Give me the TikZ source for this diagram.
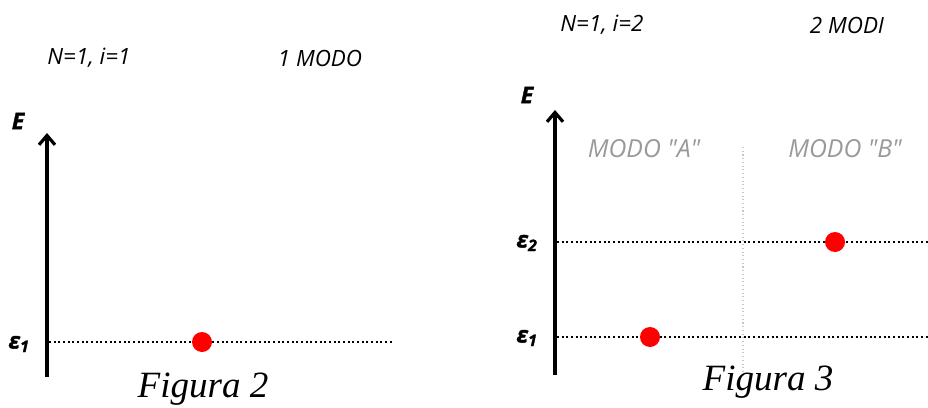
\documentclass[tikz,border=0pt]{standalone}
\usepackage{fontspec}
\setmainfont{Liberation Serif}
\newfontfamily\osans{Open Sans}
\newfontfamily\osansheavy{Open Sans}[BoldItalicFeatures={FakeBold=1.8}]
\usetikzlibrary{arrows.meta}
\definecolor{modogray}{HTML}{999999}
\definecolor{dotred}{HTML}{FF0000}
\tikzset{
  px/.style={x=0.75pt,y=-0.75pt},
  head/.style={font=\osans\itshape\fontsize{16.8}{20}\selectfont, inner sep=0pt},
  modo/.style={font=\osans\itshape\fontsize{18.6}{22}\selectfont, text=modogray, inner sep=0pt},
  elab/.style={font=\osansheavy\bfseries\itshape\fontsize{17}{20}\selectfont, inner sep=0pt},
  axis/.style={line width=2.8pt, -{Straight Barb[length=7pt,width=12pt,line width=2.4pt]}},
  level/.style={line width=1.5pt, dotted},
  divider/.style={line width=0.8pt, dotted, draw=black!22},
  dot/.style={circle, fill=dotred, inner sep=0pt, minimum size=15pt},
  fig/.style={font=\itshape\fontsize{27.8}{30}\selectfont, inner sep=0pt}
}
\begin{document}
\begin{tikzpicture}[px]
\useasboundingbox (0,0) rectangle (928,407);
% ---- Figura 2 ----
\node[head] (h1) at (89,58) {N=1, i=1};
\node[head] (m1) at (320,58) {1 MODO};
\node[elab] (E1) at (18,121) {E};
\coordinate (a1b) at (47,377);
\coordinate (a1t) at (47,133);
\draw[axis] (a1b) -- (a1t);
\node[elab] (e11) at (19,344) {ε\textsubscript{1}};
\coordinate (l1s) at (49,342);
\coordinate (l1e) at (394,342);
\draw[level] (l1s) -- (l1e);
\node[dot] (d1) at (202,342) {};
\node[fig] (f2) at (203,389) {Figura 2};
% ---- Figura 3 ----
\node[head] (h2) at (602,25) {N=1, i=2};
\node[head] (m2) at (847,25) {2 MODI};
\node[elab] (E2) at (527,95) {E};
\coordinate (a2b) at (555,375);
\coordinate (a2t) at (555,110);
\coordinate (vt) at (743,147);
\coordinate (vb) at (743,376);
\draw[divider] (vt) -- (vb);
\node[modo] (mA) at (644,149) {MODO "A"};
\node[modo] (mB) at (845,149) {MODO "B"};
\coordinate (l2s) at (557,242);
\coordinate (l2e) at (928,242);
\coordinate (l3s) at (557,337);
\coordinate (l3e) at (928,337);
\draw[level] (l2s) -- (l2e);
\draw[level] (l3s) -- (l3e);
\draw[axis] (a2b) -- (a2t);
\node[elab] (e22) at (527,243) {ε\textsubscript{2}};
\node[elab] (e21) at (527,338) {ε\textsubscript{1}};
\node[dot] (d2) at (835,242) {};
\node[dot] (d3) at (650,337) {};
\node[fig] (f3) at (768,382) {Figura 3};
\end{tikzpicture}
\end{document}
